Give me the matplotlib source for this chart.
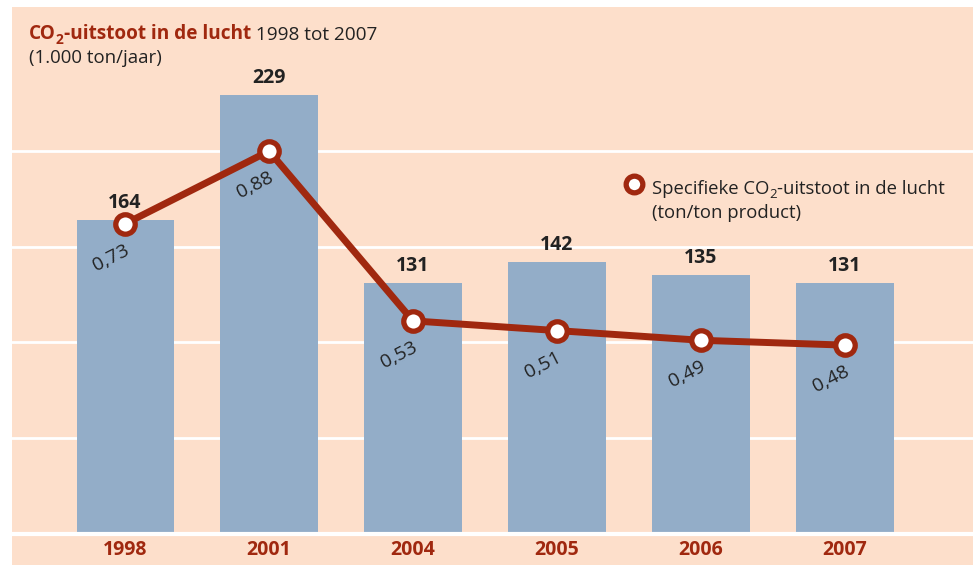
import matplotlib.pyplot as plt
from matplotlib.patches import Rectangle
import numpy as np

plt.rcParams['font.family'] = ['Open Sans', 'DejaVu Sans']

years = ['1998', '2001', '2004', '2005', '2006', '2007']
uitstoot = [164, 229, 131, 142, 135, 131]
specifiek = [0.73, 0.88, 0.53, 0.51, 0.49, 0.48]
specifiek_labels = ['0,73', '0,88', '0,53', '0,51', '0,49', '0,48']

W, H = 977, 565
peach = '#fddfcb'
blue = '#93adc8'
red = '#a0280f'
dark = '#222222'

fig = plt.figure(figsize=(W / 100, H / 100), dpi=100)
fig.patch.set_facecolor('white')
fig.patches.append(Rectangle((12 / W, 0), (973 - 12) / W, (H - 7) / H,
                             transform=fig.transFigure, facecolor=peach,
                             edgecolor='none', zorder=-10))

ax = fig.add_axes([12 / W, (H - 534) / H, (973 - 12) / W, (534 - 7) / H])
ax.set_facecolor('none')
x = np.arange(len(years))
ax.set_xlim(-0.785, 5.889)
ax.set_ylim(0, 275)
for g in [50, 100, 150, 200]:
    ax.axhline(g, color='white', lw=2, zorder=1)
ax.axhline(0, color='white', lw=3, zorder=3, clip_on=False)
ax.bar(x, uitstoot, width=0.674, color=blue, zorder=2)
for xi, v in zip(x, uitstoot):
    ax.annotate(str(v), (xi, v), xytext=(0, 7), textcoords='offset pixels',
                ha='center', va='bottom', fontsize=14, fontweight='bold',
                color=dark)
for s in ax.spines.values():
    s.set_visible(False)
ax.set_yticks([])
ax.set_xticks(x)
ax.set_xticklabels(years, fontsize=14, fontweight='bold', color=red)
ax.tick_params(axis='x', length=0, pad=4)

ax2 = ax.twinx()
ax2.set_ylim(0.0907, 1.177)
ax2.set_yticks([])
for s in ax2.spines.values():
    s.set_visible(False)
ax2.plot(x, specifiek, color=red, lw=5, marker='o', markersize=14,
         markerfacecolor='white', markeredgecolor=red, markeredgewidth=3.8,
         solid_capstyle='round', zorder=5)
for xi, v, lab in zip(x, specifiek, specifiek_labels):
    ax2.annotate(lab, (xi, v), xytext=(-14, -34), textcoords='offset pixels',
                 ha='center', va='center', rotation=27, fontsize=14,
                 color=dark)


def chain(parts, px, py):
    # parts: (text, size, weight, color, dy)
    first = fig.text(px / W, 1 - py / H, parts[0][0], fontsize=parts[0][1],
                     fontweight=parts[0][2], color=parts[0][3],
                     va='bottom', ha='left')
    prev = first
    for txt, size, weight, color, dy in parts[1:]:
        prev = ax2.annotate(txt, xy=(1, 0), xycoords=(prev, first),
                            xytext=(0, dy), textcoords='offset pixels',
                            fontsize=size, fontweight=weight, color=color,
                            va='bottom', ha='left', annotation_clip=False)
    return first


chain([('CO', 13.7, 'bold', red, 0),
       ('2', 10, 'bold', red, -3),
       ('-uitstoot in de lucht', 13.7, 'bold', red, 0),
       (' 1998 tot 2007', 13.7, 'normal', dark, 0)], 29, 44)
fig.text(29 / W, 1 - 67 / H, '(1.000 ton/jaar)', fontsize=13.4, color=dark,
         va='bottom', ha='left')

# legend
fig.lines.append(plt.Line2D([634 / W], [1 - 184 / H], transform=fig.transFigure,
                            marker='o', markersize=12, markerfacecolor='white',
                            markeredgecolor=red, markeredgewidth=3.8))
chain([('Specifieke CO', 13.3, 'normal', dark, 0),
       ('2', 9.5, 'normal', dark, -3),
       ('-uitstoot in de lucht', 13.3, 'normal', dark, 0)], 652, 198)
fig.text(652 / W, 1 - 222 / H, '(ton/ton product)', fontsize=13.3, color=dark,
         va='bottom', ha='left')

fig.savefig('out.png', dpi=100)
